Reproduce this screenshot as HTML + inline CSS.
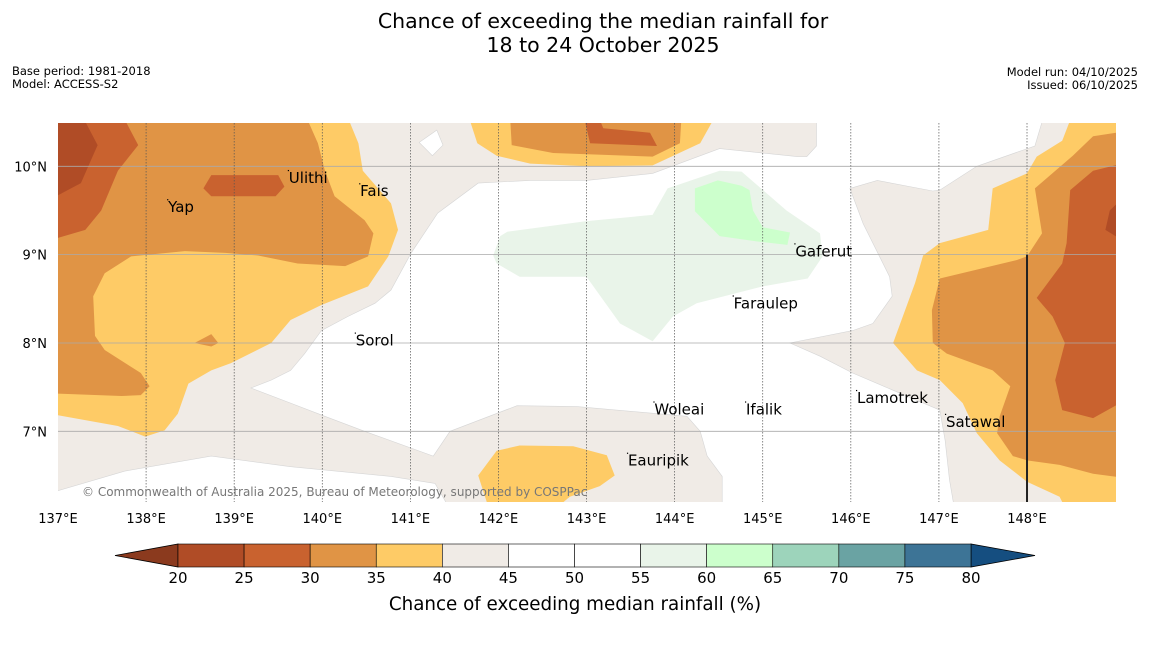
<!DOCTYPE html>
<html><head><meta charset="utf-8"><style>
body{margin:0;background:#fff;width:1150px;height:644px;overflow:hidden;font-family:"Liberation Sans","DejaVu Sans",sans-serif}
svg text{font-family:"DejaVu Sans","Liberation Sans",sans-serif}
</style></head><body>
<svg id="chart" width="1150" height="644" viewBox="0 0 1150 644" xmlns="http://www.w3.org/2000/svg">
<text x="603" y="28" text-anchor="middle" font-size="20.5">Chance of exceeding the median rainfall for</text>
<text x="603" y="52" text-anchor="middle" font-size="20.5">18 to 24 October 2025</text>
<text x="12" y="75" font-size="11.5">Base period: 1981-2018</text>
<text x="12" y="88" font-size="11.5">Model: ACCESS-S2</text>
<text x="1138" y="76" text-anchor="end" font-size="11.5">Model run: 04/10/2025</text>
<text x="1138" y="89" text-anchor="end" font-size="11.5">Issued: 06/10/2025</text>
<defs><clipPath id="plotclip"><rect x="58" y="123" width="1058" height="379"/></clipPath></defs>
<g id="map" clip-path="url(#plotclip)"></g>
<g id="overlay"></g>
<g id="cbar"></g>
</svg>
<script>
// axis domain
const lonRange = [137, 149];
const latRange = [6.2, 10.49];
const lonTicks = [137,138,139,140,141,142,143,144,145,146,147,148];
const latTicks = [7,8,9,10];
const cbTicks = [20,25,30,35,40,45,50,55,60,65,70,75,80];
const cbColors = ['#b04c26','#c9622f','#e09445','#fecb66','#f0ebe6','#ffffff','#ffffff','#e9f4e9','#ccffcc','#9dd4bb','#6aa3a3','#3d7496'];
const regionFill = {beige:'#f0ebe6', white:'#ffffff', lgreen:'#e9f4e9', green:'#ccffcc', yellow:'#fecb66', orange:'#e09445', dorange:'#c9622f', brown:'#b04c26'};
// contour regions [class, [[lon,lat],...]]
const regions = [
 ['white',[[141.77,9.81],[142.36,9.84],[143.00,9.84],[143.75,9.92],[144.51,10.20],[145.39,10.11],[145.50,10.11],[145.61,10.23],[145.61,10.6],[148.20,10.6],[148.09,10.23],[147.43,10.00],[147.01,9.73],[146.93,9.72],[146.30,9.84],[145.99,9.75],[146.14,9.35],[146.44,8.75],[146.47,8.53],[146.25,8.22],[146.02,8.14],[145.31,8.00],[145.65,7.85],[146.02,7.66],[147.01,7.24],[147.07,6.90],[147.12,6.45],[147.18,6.1],[144.54,6.1],[144.54,6.49],[144.37,6.72],[144.29,7.00],[144.14,7.17],[142.89,7.28],[142.21,7.29],[141.45,7.00],[141.26,6.72],[140.48,7.00],[140.03,7.17],[139.64,7.32],[139.19,7.49],[139.42,7.58],[139.64,7.69],[139.80,7.88],[139.99,8.14],[140.29,8.30],[140.60,8.45],[140.78,8.60],[141.01,9.02],[141.31,9.47]]],
 ['white',[[141.30,10.41],[141.37,10.24],[141.25,10.12],[141.10,10.27]]],
 ['white',[[136.9,6.30],[137.76,6.55],[138.74,6.72],[139.64,6.60],[140.78,6.49],[141.28,6.41],[141.46,6.1],[136.9,6.1]]],
 ['lgreen',[[142.10,9.26],[143.00,9.38],[143.75,9.45],[143.92,9.75],[144.51,9.95],[144.76,9.94],[145.27,9.50],[145.65,9.24],[145.68,8.98],[145.51,8.73],[145.00,8.64],[144.25,8.45],[143.98,8.30],[143.75,8.02],[143.38,8.22],[143.00,8.75],[142.24,8.75],[141.98,8.90],[141.94,8.99],[142.02,9.21]]],
 ['green',[[144.23,9.75],[144.49,9.84],[144.76,9.78],[144.85,9.73],[144.89,9.50],[145.00,9.31],[145.31,9.25],[145.28,9.11],[144.93,9.15],[144.51,9.21],[144.23,9.49]]],
 ['yellow',[[139.80,10.6],[140.27,10.6],[140.41,10.26],[140.46,9.95],[140.78,9.58],[140.86,9.28],[140.75,8.98],[140.52,8.64],[139.99,8.43],[139.64,8.26],[139.42,8.00],[138.96,7.77],[138.74,7.69],[138.48,7.54],[138.36,7.20],[138.21,7.01],[137.99,6.94],[137.68,7.06],[136.9,7.20],[136.9,10.6]]],
 ['orange',[[139.80,10.6],[139.95,10.26],[140.03,9.95],[140.14,9.66],[140.48,9.39],[140.58,9.24],[140.52,8.98],[140.26,8.87],[139.72,8.90],[139.27,8.99],[138.90,9.02],[138.44,9.04],[137.83,8.98],[137.53,8.79],[137.40,8.53],[137.42,8.08],[137.53,7.92],[137.94,7.66],[138.04,7.51],[137.94,7.41],[137.72,7.40],[136.9,7.43],[136.9,10.6]]],
 ['orange',[[138.55,8.00],[138.74,8.10],[138.82,8.00],[138.74,7.96]]],
 ['dorange',[[137.72,10.6],[137.91,10.24],[137.68,9.95],[137.49,9.50],[137.31,9.28],[136.9,9.16],[136.9,10.6]]],
 ['brown',[[137.26,10.6],[137.45,10.24],[137.26,9.81],[136.9,9.62],[136.9,10.6]]],
 ['dorange',[[138.74,9.90],[139.50,9.90],[139.57,9.77],[139.47,9.66],[138.74,9.66],[138.65,9.75]]],
 ['yellow',[[141.65,10.6],[141.76,10.26],[141.98,10.12],[142.36,10.03],[143.00,10.00],[143.75,10.01],[144.29,10.26],[144.48,10.6]]],
 ['orange',[[142.13,10.6],[142.15,10.24],[142.62,10.15],[143.75,10.11],[144.06,10.26],[144.08,10.6]]],
 ['dorange',[[142.96,10.6],[143.04,10.26],[143.80,10.23],[143.72,10.38],[143.19,10.43],[143.12,10.6]]],
 ['yellow',[[141.77,6.50],[141.98,6.78],[142.24,6.84],[142.85,6.83],[143.23,6.73],[143.32,6.50],[143.15,6.38],[142.81,6.26],[142.62,6.1],[141.90,6.1]]],
 ['yellow',[[148.52,10.6],[148.40,10.29],[148.11,10.11],[148.00,9.92],[147.61,9.75],[147.56,9.28],[147.01,9.13],[146.82,8.99],[146.73,8.68],[146.48,8.00],[146.75,7.69],[147.01,7.58],[147.27,7.32],[147.43,6.98],[147.69,6.67],[148.00,6.43],[148.37,6.26],[148.45,6.1],[149.2,6.1],[149.2,10.6]]],
 ['orange',[[149.2,10.41],[148.75,10.34],[148.52,10.12],[148.09,9.75],[148.17,9.24],[148.00,8.98],[147.89,8.94],[147.01,8.73],[146.92,8.37],[146.93,8.00],[147.09,7.88],[147.61,7.69],[147.81,7.51],[147.69,7.17],[147.66,6.98],[147.84,6.72],[148.01,6.67],[148.37,6.62],[148.75,6.52],[149.2,6.46]]],
 ['dorange',[[149.2,10.06],[148.75,9.95],[148.49,9.73],[148.45,9.13],[148.40,8.90],[148.11,8.51],[148.29,8.30],[148.43,8.00],[148.32,7.58],[148.40,7.24],[148.75,7.15],[149.2,7.40]]],
 ['brown',[[149.2,9.75],[148.94,9.50],[148.89,9.28],[149.2,9.09]]]
];
const places = [['Ulithi',139.62,9.8],['Fais',140.43,9.65],['Yap',138.25,9.47],['Gaferut',145.37,8.97],['Faraulep',144.67,8.38],['Sorol',140.38,7.96],['Woleai',143.77,7.18],['Ifalik',144.81,7.18],['Lamotrek',146.07,7.31],['Satawal',147.08,7.04],['Eauripik',143.47,6.6]];

const X0=58,X1=1115.1,Y0=502,Y1=123;
const xs = lon => X0 + (lon-lonRange[0])/(lonRange[1]-lonRange[0])*(X1-X0);
const ys = lat => Y0 - (lat-latRange[0])/(latRange[1]-latRange[0])*(Y0-Y1);
const NS='http://www.w3.org/2000/svg';
function mk(tag, attrs, parent){const e=document.createElementNS(NS,tag);for(const k in attrs)e.setAttribute(k,attrs[k]);parent.appendChild(e);return e;}
const map=document.getElementById('map');
const ov=document.getElementById('overlay');
const cb=document.getElementById('cbar');
const bg=mk('rect',{x:58,y:123,width:1058,height:379,fill:regionFill.beige},map);


regions.forEach((r,i)=>{
  const p=mk('polygon',{points:r[1].map(q=>xs(q[0]).toFixed(1)+','+ys(q[1]).toFixed(1)).join(' '),fill:regionFill[r[0]],stroke:r[0]==='white'?'#d6d6d6':'none','stroke-width':0.6},map);
  
  
});
latTicks.forEach(t=>{
  const l=mk('line',{x1:58,x2:1116,y1:ys(t),y2:ys(t),stroke:'#aaa','stroke-width':0.8},ov);
  
  
  const tx=mk('text',{x:47,y:ys(t)+5,'text-anchor':'end','font-size':13},ov);
  
  
  tx.textContent=t+'°N';
});
lonTicks.forEach(t=>{
  if(t>137){
    const l=mk('line',{x1:xs(t),x2:xs(t),y1:123,y2:502,stroke:'#555','stroke-width':0.7,'stroke-dasharray':'1.5,1.5'},ov);
    
    
  }
  const tx=mk('text',{x:xs(t),y:523,'text-anchor':'middle','font-size':13},ov);
  
  
  tx.textContent=t+'°E';
});
const bl=mk('line',{x1:xs(148),x2:xs(148),y1:ys(9),y2:502,stroke:'#222','stroke-width':2},ov);


places.forEach(p=>{
  const d=mk('rect',{x:xs(p[1])-1,y:ys(p[2])-14,width:1.2,height:1.2,fill:'#000'},ov);
  
  
  const tx=mk('text',{x:xs(p[1]),y:ys(p[2])-1,'font-size':15},ov);
  
  
  tx.textContent=p[0];
});
const cp=mk('text',{x:82,y:496,'font-size':12,fill:'#777'},ov);


cp.textContent='© Commonwealth of Australia 2025, Bureau of Meteorology, supported by COSPPac';
// colorbar
const cx=v=>178+(v-20)/60*(971-178);
const lt=mk('polygon',{points:'115,555.5 178,544 178,567',fill:'#8b3a1e',stroke:'#000','stroke-width':0.8},cb);


const rt=mk('polygon',{points:'1035,555.5 971,544 971,567',fill:'#154e80',stroke:'#000','stroke-width':0.8},cb);


cbColors.forEach((c,i)=>{
  const r=mk('rect',{x:cx(cbTicks[i]),y:544,width:cx(cbTicks[i+1])-cx(cbTicks[i]),height:23,fill:c,stroke:'#000','stroke-width':0.6},cb);
  
  
});
cbTicks.forEach(t=>{
  const tx=mk('text',{x:cx(t),y:583,'text-anchor':'middle','font-size':15},cb);
  
  
  tx.textContent=t;
});
const ct=mk('text',{x:575,y:610,'text-anchor':'middle','font-size':18.3},cb);


ct.textContent='Chance of exceeding median rainfall (%)';
</script>
</body></html>
